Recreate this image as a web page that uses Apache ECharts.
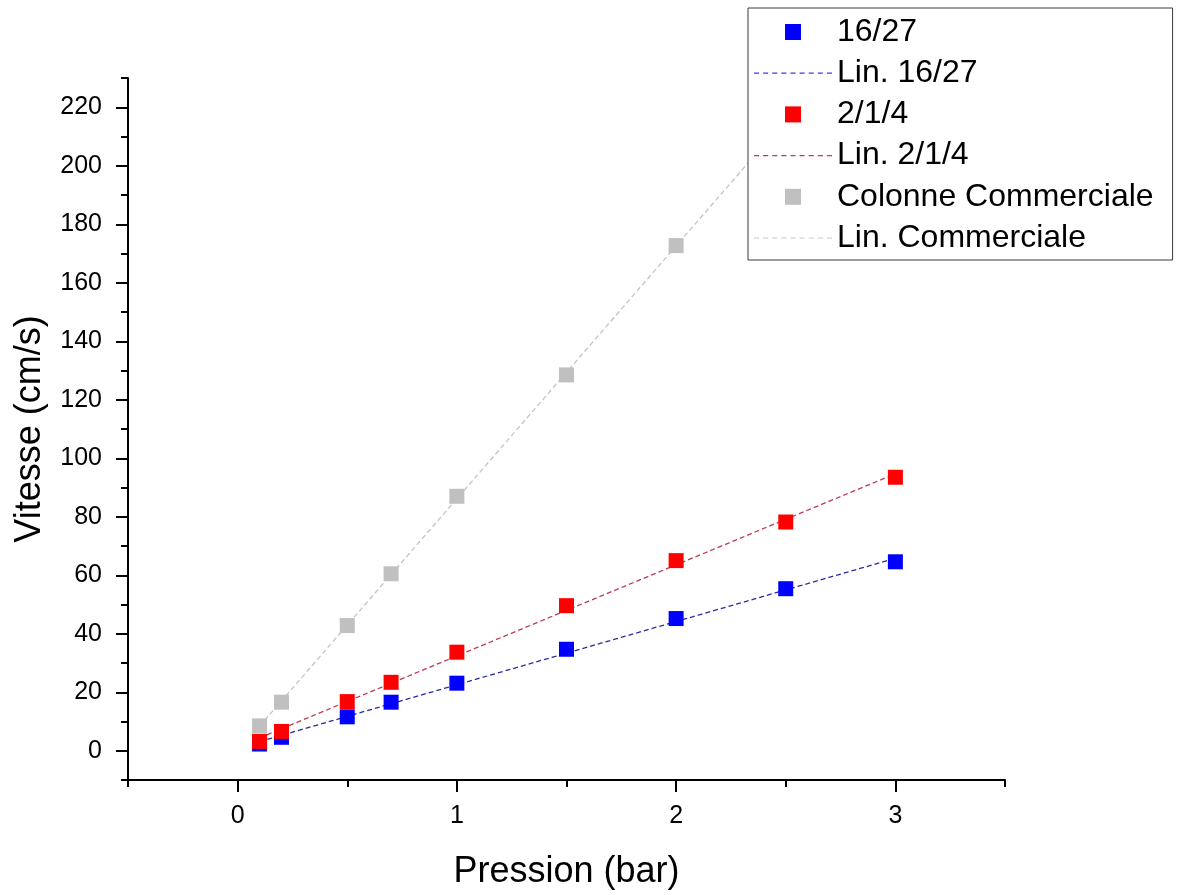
<!DOCTYPE html>
<html>
<head>
<meta charset="utf-8">
<script src="https://cdn.jsdelivr.net/npm/echarts@6/dist/echarts.min.js"></script>
<style>
html,body{margin:0;padding:0;background:#fff;}
#chart{width:1180px;height:895px;}
</style>
</head>
<body>
<div id="chart"></div>
<script>
// ---- Data ----
const pressure16 = [0.1, 0.2, 0.5, 0.7, 1, 1.5, 2, 2.5, 3];
const speed16 = [2.3, 4.6, 11.6, 16.6, 23.1, 34.7, 45.2, 55.4, 64.6];
const pressure214 = [0.1, 0.2, 0.5, 0.7, 1, 1.5, 2, 2.5, 3];
const speed214 = [3.2, 6.6, 16.8, 23.4, 33.7, 49.6, 65.0, 78.2, 93.5];
const pressureCom = [0.1, 0.2, 0.5, 0.7, 1, 1.5, 2];
const speedCom = [8.5, 16.6, 42.8, 60.5, 87.0, 128.5, 172.7];
// linear fit end points (x, y)
const fit16X = [0.1, 3];
const fit16Y = [3.1, 65.8];
const fit214X = [0.1, 3];
const fit214Y = [4.4, 94.7];
const fitComX = [0.1, 3];
const fitComY = [8.4, 259];
// axis ticks
const xMajor = [0, 1, 2, 3];
const xMinor = [-0.5, 0.5, 1.5, 2.5, 3.5];
const yMajor = [0, 20, 40, 60, 80, 100, 120, 140, 160, 180, 200, 220];
const yMinor = [-10, 10, 30, 50, 70, 90, 110, 130, 150, 170, 190, 210, 230];
const seriesNames = ['16/27', 'Lin. 16/27', '2/1/4', 'Lin. 2/1/4', 'Colonne Commerciale', 'Lin. Commerciale'];

const zip = (xs, ys) => xs.map((x, i) => [x, ys[i]]);

const FONT = "'Liberation Sans', Arial, sans-serif";
const squareIcon = 'path://M0,0H1V1H0Z';
let dashPath = 'path://';
for (let x = 0; x + 5 <= 78; x += 9) {
  dashPath += 'M' + x + ',0H' + (x + 5) + 'V1.2H' + x + 'Z';
}

const chart = echarts.init(document.getElementById('chart'), null, {renderer: 'canvas'});

const axisCommonX = {
  type: 'value', min: -0.5, max: 3.5, position: 'bottom',
  splitLine: {show: false}
};
const axisCommonY = {
  type: 'value', min: -10, max: 230, position: 'left',
  splitLine: {show: false}
};

const option = {
  backgroundColor: '#ffffff',
  animation: false,
  textStyle: {fontFamily: FONT},
  grid: {left: 128, right: 175, top: 78, bottom: 109, containLabel: false},
  xAxis: [
    Object.assign({}, axisCommonX, {
      name: 'Pression (bar)', nameLocation: 'middle', nameGap: 74,
      nameTextStyle: {fontSize: 36, color: '#000', fontFamily: FONT},
      axisLine: {show: true, onZero: false, lineStyle: {color: '#000', width: 2}},
      axisTick: {show: true, inside: false, length: 12, lineStyle: {color: '#000', width: 2}, customValues: xMajor},
      axisLabel: {show: true, fontSize: 25, color: '#000', margin: 24, fontFamily: FONT, customValues: xMajor}
    }),
    Object.assign({}, axisCommonX, {
      axisLine: {show: false, onZero: false},
      axisTick: {show: true, inside: false, length: 7, lineStyle: {color: '#000', width: 2}, customValues: xMinor},
      axisLabel: {show: false}
    })
  ],
  yAxis: [
    Object.assign({}, axisCommonY, {
      name: 'Vitesse (cm/s)', nameLocation: 'middle', nameGap: 80, nameRotate: 90,
      nameTextStyle: {fontSize: 36, color: '#000', fontFamily: FONT},
      axisLine: {show: true, onZero: false, lineStyle: {color: '#000', width: 2}},
      axisTick: {show: true, inside: false, length: 12, lineStyle: {color: '#000', width: 2}, customValues: yMajor},
      axisLabel: {show: true, fontSize: 25, color: '#000', margin: 26, fontFamily: FONT, customValues: yMajor}
    }),
    Object.assign({}, axisCommonY, {
      axisLine: {show: false, onZero: false},
      axisTick: {show: true, inside: false, length: 7, lineStyle: {color: '#000', width: 2}, customValues: yMinor},
      axisLabel: {show: false}
    })
  ],
  legend: {
    orient: 'vertical', left: 748, top: 8, align: 'left',
    padding: [7, 19, 5, 6],
    itemWidth: 78, itemHeight: 16, itemGap: 7.2,
    backgroundColor: '#ffffff', borderColor: '#3a3a3a', borderWidth: 1,
    selectedMode: false,
    textStyle: {fontSize: 32, color: '#000', fontFamily: FONT, lineHeight: 34},
    data: [
      {name: seriesNames[0], icon: squareIcon},
      {name: seriesNames[1], icon: dashPath},
      {name: seriesNames[2], icon: squareIcon},
      {name: seriesNames[3], icon: dashPath},
      {name: seriesNames[4], icon: squareIcon},
      {name: seriesNames[5], icon: dashPath}
    ]
  },
  series: [
    {
      name: seriesNames[1], type: 'line', data: zip(fit16X, fit16Y),
      symbol: 'none', z: 2, silent: true,
      itemStyle: {color: '#3b3bf0'},
      lineStyle: {color: '#2c2ca0', width: 1.3, type: [5, 3]}
    },
    {
      name: seriesNames[3], type: 'line', data: zip(fit214X, fit214Y),
      symbol: 'none', z: 2, silent: true,
      itemStyle: {color: '#e0303a'},
      lineStyle: {color: '#c03a52', width: 1.3, type: [5, 3]}
    },
    {
      name: seriesNames[5], type: 'line', data: zip(fitComX, fitComY),
      symbol: 'none', z: 2, silent: true, clip: true,
      itemStyle: {color: '#c8c8c8'},
      lineStyle: {color: '#c4c4c4', width: 1.3, type: [5, 3]}
    },
    {
      name: seriesNames[4], type: 'scatter', data: zip(pressureCom, speedCom),
      symbol: 'rect', symbolSize: 15, z: 3,
      itemStyle: {color: '#c0c0c0', opacity: 1}
    },
    {
      name: seriesNames[0], type: 'scatter', data: zip(pressure16, speed16),
      symbol: 'rect', symbolSize: 15, z: 4,
      itemStyle: {color: '#0000ff', opacity: 1}
    },
    {
      name: seriesNames[2], type: 'scatter', data: zip(pressure214, speed214),
      symbol: 'rect', symbolSize: 15, z: 5,
      itemStyle: {color: '#ff0000', opacity: 1}
    }
  ]
};
chart.setOption(option);
</script>
</body>
</html>
